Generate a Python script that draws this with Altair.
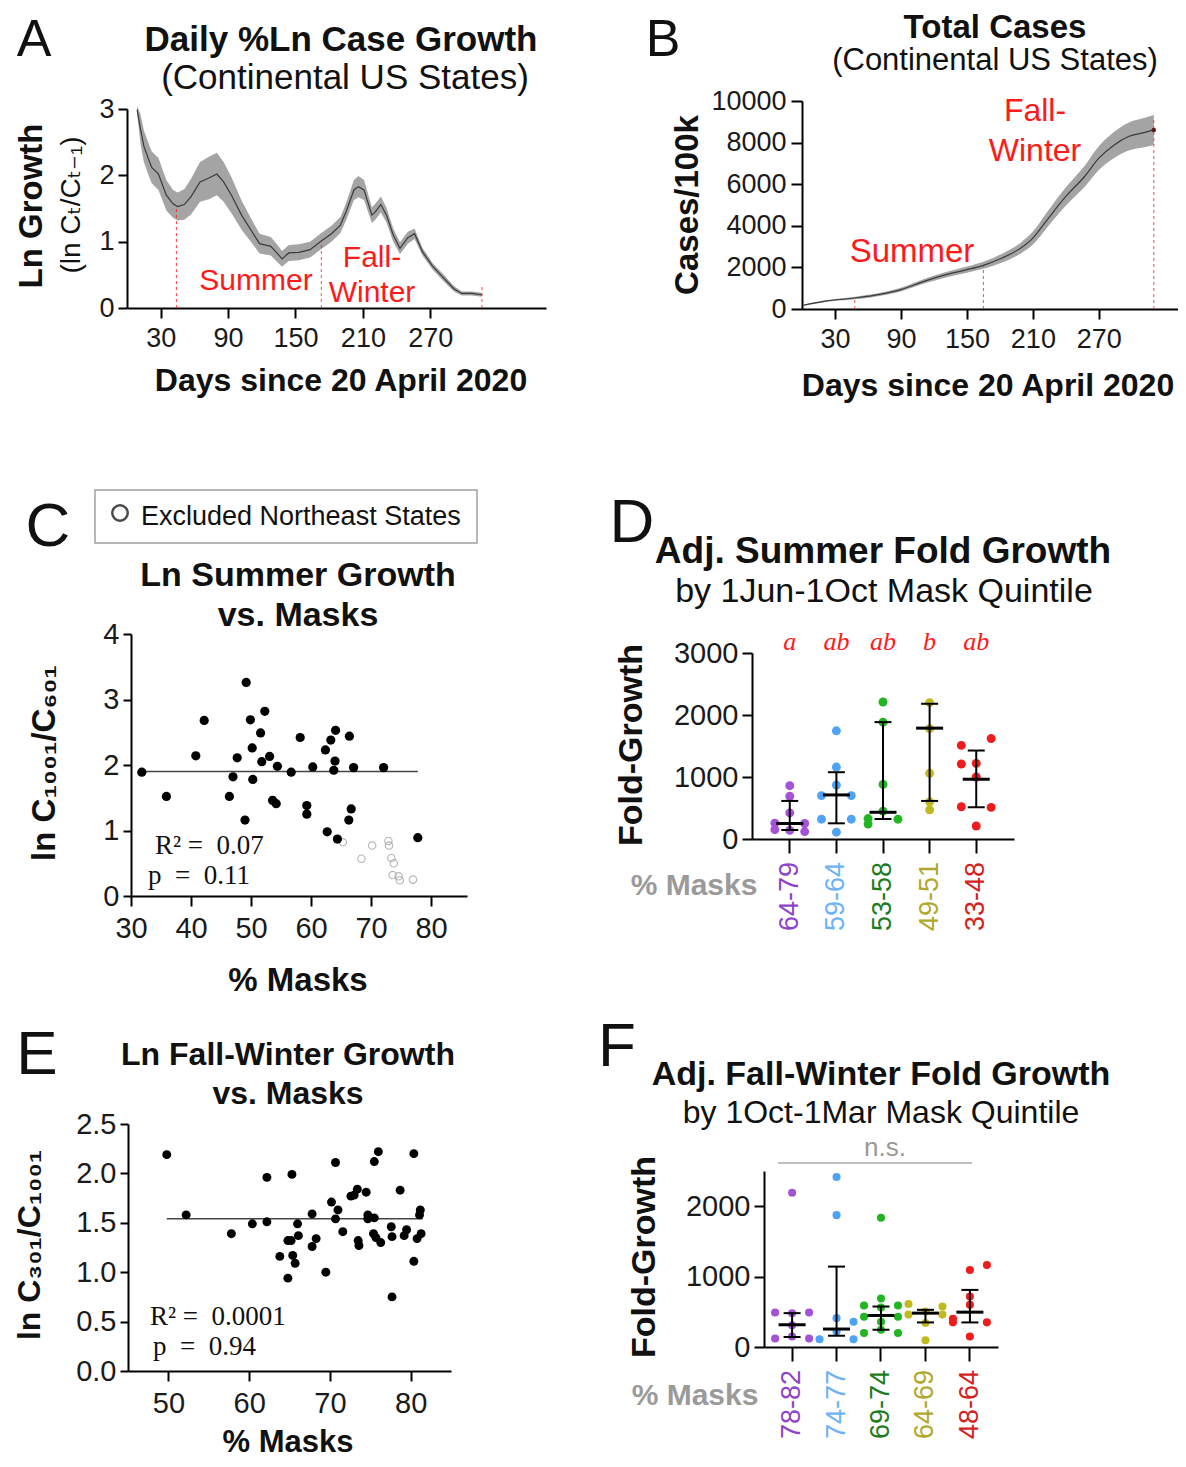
import altair as alt
import pandas as pd

FONT = "Liberation Sans, Arial, DejaVu Sans"
SERIF = "Liberation Serif, DejaVu Serif"
INK = "#111111"
RED = "#FF1A1A"
GRAY_TXT = "#9a9a9a"

# ---------------- Panel A : daily ln growth ----------------
A_DAY = [9, 12, 15, 19, 22, 28, 35, 41, 45, 51, 57, 65, 73, 80, 86, 93, 102, 112, 118, 128,
         134, 138, 144, 153, 163, 173, 182, 190, 195, 202, 206, 211, 218, 221, 226, 231, 237,
         243, 250, 256, 263, 272, 282, 291, 298, 307, 316]
A_MEAN = [2.99, 2.70, 2.44, 2.25, 2.12, 2.02, 1.70, 1.57, 1.53, 1.56, 1.68, 1.90, 1.96, 2.02,
          1.90, 1.70, 1.40, 1.13, 0.97, 0.93, 0.82, 0.74, 0.83, 0.84, 0.88, 1.01, 1.12, 1.25,
          1.45, 1.78, 1.83, 1.78, 1.40, 1.45, 1.56, 1.40, 1.10, 0.90, 1.06, 1.12, 0.85, 0.63,
          0.45, 0.29, 0.22, 0.22, 0.20]
A_HALF = [0.06, 0.22, 0.24, 0.24, 0.24, 0.24, 0.23, 0.21, 0.21, 0.23, 0.27, 0.30, 0.32, 0.32,
          0.30, 0.27, 0.22, 0.17, 0.15, 0.14, 0.13, 0.12, 0.12, 0.12, 0.12, 0.12, 0.12, 0.12,
          0.13, 0.15, 0.16, 0.15, 0.12, 0.12, 0.12, 0.11, 0.10, 0.09, 0.09, 0.08, 0.06, 0.05,
          0.05, 0.04, 0.03, 0.03, 0.03]
A_MARK_DAY = [44, 173, 316]
A_MARK_TOP = [1.52, 1.01, 0.33]

# ---------------- Panel B : total cases ----------------
B_DAY = [1, 20, 48, 64, 90, 111, 131, 150, 165, 182, 199, 210, 223, 240, 257, 270, 284, 297, 311, 320]
B_MEAN = [180, 370, 530, 640, 930, 1330, 1650, 1890, 2100, 2450, 2930, 3410, 4290, 5410, 6370,
          7250, 7890, 8290, 8480, 8610]
B_HALF = [30, 40, 60, 70, 90, 110, 130, 150, 170, 210, 260, 310, 370, 440, 510, 570, 630, 670, 700, 720]
B_MARK_DAY = [48, 165, 320]
B_MARK_TOP = [530, 2100, 9100]

# ---------------- Panel C : summer growth vs masks ----------------
C_IN_X = [31.8, 35.9, 40.8, 42.2, 49.2, 49.9, 50.2, 47.7, 47.0, 46.4, 50.3, 49.0, 52.3, 51.6,
          51.8, 53.1, 54.4, 53.6, 54.2, 56.7, 58.2, 60.3, 59.3, 59.3, 62.4, 63.3, 64.1, 64.0,
          63.8, 66.4, 67.1, 66.7, 66.3, 62.7, 64.4, 72.1, 77.8]
C_IN_Y = [1.89, 1.52, 2.14, 2.68, 3.26, 2.69, 2.26, 2.11, 1.82, 1.52, 1.78, 1.16, 2.82, 2.49,
          2.05, 2.13, 1.98, 1.46, 1.41, 1.89, 2.42, 1.97, 1.38, 1.25, 2.23, 2.38, 2.53, 2.06,
          1.92, 2.44, 1.96, 1.33, 1.16, 0.98, 0.87, 1.96, 0.89]
C_OUT_X = [65.3, 68.4, 70.2, 72.9, 73.0, 73.4, 73.8, 73.6, 74.6, 74.8, 77.0]
C_OUT_Y = [0.82, 0.57, 0.77, 0.84, 0.77, 0.58, 0.50, 0.32, 0.30, 0.24, 0.25]
C_FIT_X = [31.5, 77.8]
C_FIT_Y = [1.90, 1.90]

# ---------------- Panel D : summer fold growth by quintile ----------------
D_CATS = ["64-79", "59-64", "53-58", "49-51", "33-48"]
D_VALUES = [[860, 690, 420, 255, 250, 150, 140, 120],
            [1745, 1160, 870, 700, 700, 320, 320, 110],
            [2210, 1885, 880, 450, 330, 320, 240],
            [2200, 1780, 1060, 600, 470],
            [1620, 1510, 1220, 1210, 1000, 520, 510, 210]]
D_SLOTS = [["C", "C", "C", "L", "R", "L", "C", "R"],
           ["C", "C", "C", "L", "R", "L", "R", "C"],
           ["C", "C", "C", "C", "L", "R", "L"],
           ["C", "C", "C", "C", "C"],
           ["R", "L", "C", "L", "C", "L", "R", "C"]]
D_MEDIAN = [250, 711, 431, 1788, 964]
D_LO = [145, 253, 323, 614, 512]
D_HI = [614, 1077, 1885, 2181, 1427]
D_SIG = ["a", "ab", "ab", "b", "ab"]

# ---------------- Panel E : fall-winter growth vs masks ----------------
E_X = [49.8, 52.2, 57.8, 60.4, 62.2, 62.2, 63.8, 65.3, 64.8, 65.2, 66.0, 66.1, 65.4, 65.7, 64.8,
       67.8, 68.3, 67.8, 69.5, 70.7, 70.2, 71.0, 70.7, 71.6, 72.6, 73.0, 73.4, 74.5, 73.5, 73.6,
       74.7, 74.7, 75.5, 75.5, 76.0, 75.4, 75.7, 76.3, 77.6, 77.7, 78.7, 79.2, 79.5, 80.4, 80.4,
       80.8, 81.2, 81.1, 81.3, 77.7]
E_Y = [2.19, 1.58, 1.39, 1.49, 1.96, 1.51, 1.16, 1.99, 1.32, 1.32, 1.49, 1.37, 1.17, 1.09, 0.94,
       1.59, 1.34, 1.26, 1.00, 2.11, 1.71, 1.63, 1.54, 1.41, 1.77, 1.78, 1.84, 1.81, 1.32, 1.27,
       1.58, 1.54, 1.55, 2.12, 2.22, 1.39, 1.35, 1.30, 1.46, 1.36, 1.83, 1.37, 1.43, 2.20, 1.11,
       1.34, 1.63, 1.58, 1.39, 0.75]
E_FIT_X = [49.8, 81.5]
E_FIT_Y = [1.54, 1.54]

# ---------------- Panel F : fall-winter fold growth by quintile ----------------
F_CATS = ["78-82", "74-77", "69-74", "64-69", "48-64"]
F_VALUES = [[2190, 490, 490, 480, 310, 120, 120, 150],
            [2415, 1873, 410, 360, 220, 110, 110],
            [1835, 690, 590, 590, 560, 430, 430, 360, 245, 200, 200],
            [610, 575, 505, 460, 460, 340, 95],
            [1165, 1094, 717, 600, 400, 350, 350, 150]]
F_SLOTS = [["C", "L", "R", "C", "C", "L", "R", "C"],
           ["C", "C", "C", "R", "C", "L", "R"],
           ["C", "C", "L", "R", "C", "L", "R", "C", "C", "L", "R"],
           ["L", "R", "C", "L", "R", "C", "C"],
           ["R", "C", "C", "C", "L", "L", "R", "C"]]
F_MEDIAN = [316, 255, 448, 481, 495]
F_LO = [142, 160, 245, 349, 349]
F_HI = [481, 1142, 575, 528, 811]

POINT_COLORS = ["#A452D6", "#4FA3F7", "#22B522", "#C2B921", "#EE1C1C"]
LABEL_COLORS = ["#8E44C8", "#6DB3F5", "#1C7C1C", "#B0A82A", "#D42222"]

# ---------------- one canvas, every panel placed through its own scale ranges ----------------
W, H = 1170, 1451          # page 1186 x 1467 minus the 8px body margins
M = 8                       # page coordinate = view coordinate + 8
ONE = pd.DataFrame({"k": [0]})


def txt(s, x, y, size, weight="normal", color=INK, angle=0, align="center",
        font=FONT, style="normal"):
    return alt.Chart(ONE).mark_text(
        text=s, fontSize=size, fontWeight=weight, color=color, angle=angle,
        align=align, baseline="middle", font=font, fontStyle=style
    ).encode(x=alt.value(x - M), y=alt.value(y - M))


def qscale(dom, p0, p1):
    return alt.Scale(domain=dom, range=[p0 - M, p1 - M], nice=False, zero=False)


def xaxis(y_page, ticks, fs, tick=10, pad=7, labels=True):
    kw = dict(orient="bottom", offset=(y_page - M) - H, title=None, tickSize=tick,
              labelPadding=pad, labelFontSize=fs, labels=labels)
    if ticks is not None:
        kw["values"] = ticks
        kw["format"] = "d"
    return alt.Axis(**kw)


def yaxis(x_page, ticks, fs, fmt="d", tick=8, pad=4):
    return alt.Axis(orient="left", offset=-(x_page - M), values=ticks, title=None,
                    tickSize=tick, labelPadding=pad, labelFontSize=fs, format=fmt)


# ======================= Panel A =======================
dfA = pd.DataFrame({"day": A_DAY, "v": A_MEAN, "h": A_HALF})
dfA["lo"] = dfA["v"] - dfA["h"]
dfA["hi"] = dfA["v"] + dfA["h"]
dfAm = pd.DataFrame({"day": A_MARK_DAY, "top": A_MARK_TOP, "zero": [0] * len(A_MARK_DAY)})
scAx, scAy = qscale([0, 373], 127, 546), qscale([0, 3], 308, 109)
axAx, axAy = xaxis(308, [30, 90, 150, 210, 270], 27), yaxis(127, [0, 1, 2, 3], 27, tick=9)
XA = lambda f: alt.X(f"{f}:Q", scale=scAx, axis=axAx)
YA = lambda f: alt.Y(f"{f}:Q", scale=scAy, axis=axAy)
panelA = alt.layer(
    alt.Chart(dfA).mark_area(color="#9a9a9a", opacity=0.9).encode(x=XA("day"), y=YA("lo"), y2="hi:Q"),
    alt.Chart(dfA).mark_line(color="#3a3a3a", strokeWidth=1.2).encode(x=XA("day"), y=YA("v")),
    alt.Chart(dfAm).mark_rule(color=RED, strokeDash=[3, 3], strokeWidth=1, opacity=0.8).encode(
        x=XA("day"), y=YA("zero"), y2="top:Q"),
)

# ======================= Panel B =======================
dfB = pd.DataFrame({"day": B_DAY, "v": B_MEAN, "h": B_HALF})
dfB["lo"] = dfB["v"] - dfB["h"]
dfB["hi"] = dfB["v"] + dfB["h"]
dfBm = pd.DataFrame({"day": B_MARK_DAY, "top": B_MARK_TOP, "zero": [0] * len(B_MARK_DAY)})
scBx, scBy = qscale([0, 342], 802, 1178), qscale([0, 10000], 309, 101)
axBx = xaxis(309, [30, 90, 150, 210, 270], 27)
axBy = yaxis(802, [0, 2000, 4000, 6000, 8000, 10000], 27, tick=11, pad=5)
XB = lambda f: alt.X(f"{f}:Q", scale=scBx, axis=axBx)
YB = lambda f: alt.Y(f"{f}:Q", scale=scBy, axis=axBy)
panelB = alt.layer(
    alt.Chart(dfB).mark_area(color="#9a9a9a", opacity=0.9, interpolate="monotone").encode(
        x=XB("day"), y=YB("lo"), y2="hi:Q"),
    alt.Chart(dfB).mark_line(color="#3a3a3a", strokeWidth=1.2, interpolate="monotone").encode(
        x=XB("day"), y=YB("v")),
    alt.Chart(dfBm).mark_rule(color=RED, strokeDash=[3, 3], strokeWidth=1, opacity=0.8).encode(
        x=XB("day"), y=YB("zero"), y2="top:Q"),
    alt.Chart(dfB.tail(1)).mark_circle(color="#5a1a1a", size=20, opacity=1).encode(x=XB("day"), y=YB("v")),
)

# ======================= Panel C =======================
dfCi = pd.DataFrame({"x": C_IN_X, "y": C_IN_Y})
dfCo = pd.DataFrame({"x": C_OUT_X, "y": C_OUT_Y})
dfCf = pd.DataFrame({"x": C_FIT_X, "y": C_FIT_Y})
scCx, scCy = qscale([30, 86], 131, 467), qscale([0, 4], 896, 634)
axCx, axCy = xaxis(896, [30, 40, 50, 60, 70, 80], 29, pad=8), yaxis(131, [0, 1, 2, 3, 4], 29)
XC = alt.X("x:Q", scale=scCx, axis=axCx)
YC = alt.Y("y:Q", scale=scCy, axis=axCy)
panelC = alt.layer(
    alt.Chart(dfCf).mark_line(color="#444444", strokeWidth=1.5).encode(x=XC, y=YC),
    alt.Chart(dfCo).mark_point(shape="circle", filled=False, color="#9a9a9a", size=55, strokeWidth=1.1).encode(x=XC, y=YC),
    alt.Chart(dfCi).mark_circle(color="black", size=85, opacity=1).encode(x=XC, y=YC),
)

# ======================= Panel E =======================
dfE = pd.DataFrame({"x": E_X, "y": E_Y})
dfEf = pd.DataFrame({"x": E_FIT_X, "y": E_FIT_Y})
scEx, scEy = qscale([45, 85], 128, 451), qscale([0, 2.5], 1371, 1124)
axEx, axEy = xaxis(1371, [50, 60, 70, 80], 29, pad=8), yaxis(128, [0, 0.5, 1.0, 1.5, 2.0, 2.5], 29, fmt=".1f")
XE = alt.X("x:Q", scale=scEx, axis=axEx)
YE = alt.Y("y:Q", scale=scEy, axis=axEy)
panelE = alt.layer(
    alt.Chart(dfEf).mark_line(color="#444444", strokeWidth=1.5).encode(x=XE, y=YE),
    alt.Chart(dfE).mark_circle(color="black", size=80, opacity=1).encode(x=XE, y=YE),
)


# ======================= Panels D / F =======================
def quintile_panel(cats, values, slots, med, lo, hi, sig, x0, x1, y0, y1, ymax, yticks,
                   pad_in, pad_out, pt_size, label_top, sig_y):
    grp, val, slot = [], [], []
    for c, vs, ss in zip(cats, values, slots):
        grp += [c] * len(vs)
        val += vs
        slot += ss
    pts = pd.DataFrame({"grp": grp, "val": val, "slot": slot})
    summ = pd.DataFrame({"grp": cats, "med": med, "lo": lo, "hi": hi, "lab": cats})
    scx = alt.Scale(domain=cats, range=[x0 - M, x1 - M], paddingInner=pad_in, paddingOuter=pad_out)
    axx = xaxis(y0, None, 29, tick=14, labels=False)
    scy = alt.Scale(domain=[0, ymax], range=[y0 - M, y1 - M], nice=False, zero=False)
    axy = yaxis(x0, yticks, 29, tick=10, pad=4)
    X = alt.X("grp:N", scale=scx, axis=axx, sort=cats)
    Y = lambda f: alt.Y(f"{f}:Q", scale=scy, axis=axy)
    layers = [
        alt.Chart(pts).mark_circle(size=pt_size, opacity=1).encode(
            x=X,
            xOffset=alt.XOffset("slot:N", scale=alt.Scale(domain=["L", "C", "R"], paddingInner=0, paddingOuter=0)),
            y=Y("val"),
            color=alt.Color("grp:N", scale=alt.Scale(domain=cats, range=POINT_COLORS), legend=None)),
        alt.Chart(summ).mark_rule(color="black", strokeWidth=2).encode(x=X, y=Y("lo"), y2="hi:Q"),
        alt.Chart(summ).mark_tick(color="black", size=27, thickness=3, orient="horizontal", opacity=1).encode(x=X, y=Y("med")),
        alt.Chart(summ).mark_tick(color="black", size=17, thickness=2, orient="horizontal", opacity=1).encode(x=X, y=Y("lo")),
        alt.Chart(summ).mark_tick(color="black", size=17, thickness=2, orient="horizontal", opacity=1).encode(x=X, y=Y("hi")),
        alt.Chart(summ).mark_text(angle=270, align="right", baseline="middle", fontSize=27, font=FONT).encode(
            x=X, y=alt.value(label_top - M), text="lab:N",
            color=alt.Color("lab:N", scale=alt.Scale(domain=cats, range=LABEL_COLORS), legend=None)),
    ]
    if sig is not None:
        summ["sig"] = sig
        layers.append(alt.Chart(summ).mark_text(font=SERIF, fontStyle="italic", fontSize=26, color=RED,
                                                baseline="middle").encode(x=X, y=alt.value(sig_y - M), text="sig:N"))
    return alt.layer(*layers).resolve_scale(color="independent")


panelD = quintile_panel(D_CATS, D_VALUES, D_SLOTS, D_MEDIAN, D_LO, D_HI, D_SIG,
                        752, 1014, 839, 653, 3000, [0, 1000, 2000, 3000], 0.36, 0.49, 80, 862, 642)
panelF = quintile_panel(F_CATS, F_VALUES, F_SLOTS, F_MEDIAN, F_LO, F_HI, None,
                        764, 998, 1347, 1171, 2500, [0, 1000, 2000], 0.236, 0.25, 65, 1370, 0)

# ======================= annotations =======================
legend_box = alt.Chart(ONE).mark_rect(fill="white", stroke="#a0a0a0", strokeWidth=1.5).encode(
    x=alt.value(95 - M), x2=alt.value(477 - M), y=alt.value(490 - M), y2=alt.value(543 - M))
legend_sym = alt.Chart(ONE).mark_point(shape="circle", filled=False, color="black", size=240, strokeWidth=2.5).encode(
    x=alt.value(120 - M), y=alt.value(513 - M))
ns_line = alt.Chart(ONE).mark_rule(color="#aaaaaa", strokeWidth=1.5).encode(
    x=alt.value(778 - M), x2=alt.value(972 - M), y=alt.value(1163 - M))
NB = "\u00a0"

texts = [
    # A
    txt("A", 34, 40, 52),
    txt("Daily %Ln Case Growth", 341, 40, 35, "bold"),
    txt("(Continental US States)", 345, 78, 35),
    txt("Ln Growth", 32, 206, 33, "bold", angle=270),
    txt("(ln Cₜ/Cₜ₋₁)", 72, 205, 28, angle=270),
    txt("Summer", 256, 281, 30, color=RED),
    txt("Fall-", 372, 258, 30, color=RED),
    txt("Winter", 372, 293, 30, color=RED),
    txt("Days since 20 April 2020", 341, 381, 32, "bold"),
    # B
    txt("B", 663, 40, 52),
    txt("Total Cases", 995, 28, 33, "bold"),
    txt("(Continental US States)", 995, 61, 31),
    txt("Cases/100k", 688, 205, 33, "bold", angle=270),
    txt("Summer", 912, 252, 33, color=RED),
    txt("Fall-", 1035, 111, 32, color=RED),
    txt("Winter", 1035, 151, 32, color=RED),
    txt("Days since 20 April 2020", 988, 386, 32, "bold"),
    # C
    txt("C", 48, 527, 62),
    txt("Excluded Northeast States", 141, 517, 27, align="left"),
    txt("Ln Summer Growth", 298, 576, 34, "bold"),
    txt("vs. Masks", 298, 616, 34, "bold"),
    txt("ln C₁₀₀₁/C₆₀₁", 45, 763, 33, "bold", angle=270),
    txt("% Masks", 298, 981, 33, "bold"),
    txt("R²" + NB + "=" + NB + NB + "0.07", 155, 846, 27, align="left", font=SERIF),
    txt("p" + NB + NB + "=" + NB + NB + "0.11", 148, 876, 27, align="left", font=SERIF),
    # D
    txt("D", 632, 523, 62),
    txt("Adj. Summer Fold Growth", 883, 552, 37, "bold"),
    txt("by 1Jun-1Oct Mask Quintile", 884, 592, 34),
    txt("Fold-Growth", 632, 745, 34, "bold", angle=270),
    txt("% Masks", 694, 886, 30, "bold", color=GRAY_TXT),
    # E
    txt("E", 37, 1055, 62),
    txt("Ln Fall-Winter Growth", 288, 1055, 32, "bold"),
    txt("vs. Masks", 288, 1094, 32, "bold"),
    txt("ln C₃₀₁/C₁₀₀₁", 30, 1245, 32, "bold", angle=270),
    txt("% Masks", 288, 1443, 31, "bold"),
    txt("R²" + NB + "=" + NB + NB + "0.0001", 150, 1317, 27, align="left", font=SERIF),
    txt("p" + NB + NB + "=" + NB + NB + "0.94", 153, 1347, 27, align="left", font=SERIF),
    # F
    txt("F", 617, 1047, 62),
    txt("Adj. Fall-Winter Fold Growth", 881, 1075, 34, "bold"),
    txt("by 1Oct-1Mar Mask Quintile", 881, 1113, 32),
    txt("n.s.", 885, 1148, 26, color="#999999"),
    txt("Fold-Growth", 645, 1257, 34, "bold", angle=270),
    txt("% Masks", 695, 1396, 30, "bold", color=GRAY_TXT),
]

chart = alt.layer(
    legend_box, legend_sym, ns_line,
    panelA, panelB, panelC, panelD, panelE, panelF,
    *texts
).resolve_scale(
    x="independent", y="independent", color="independent", xOffset="independent"
).resolve_axis(
    x="independent", y="independent"
).properties(
    width=W, height=H, padding=0,
    autosize=alt.AutoSizeParams(type="none")
).configure_view(stroke=None).configure_axis(
    domainColor="black", domainWidth=2, tickColor="black", tickWidth=2,
    labelFont=FONT, labelColor="#1a1a1a", grid=False,
    labelFlush=False, labelOverlap=False
)

chart.save("out.html", embed_options={"renderer": "svg", "actions": False})
